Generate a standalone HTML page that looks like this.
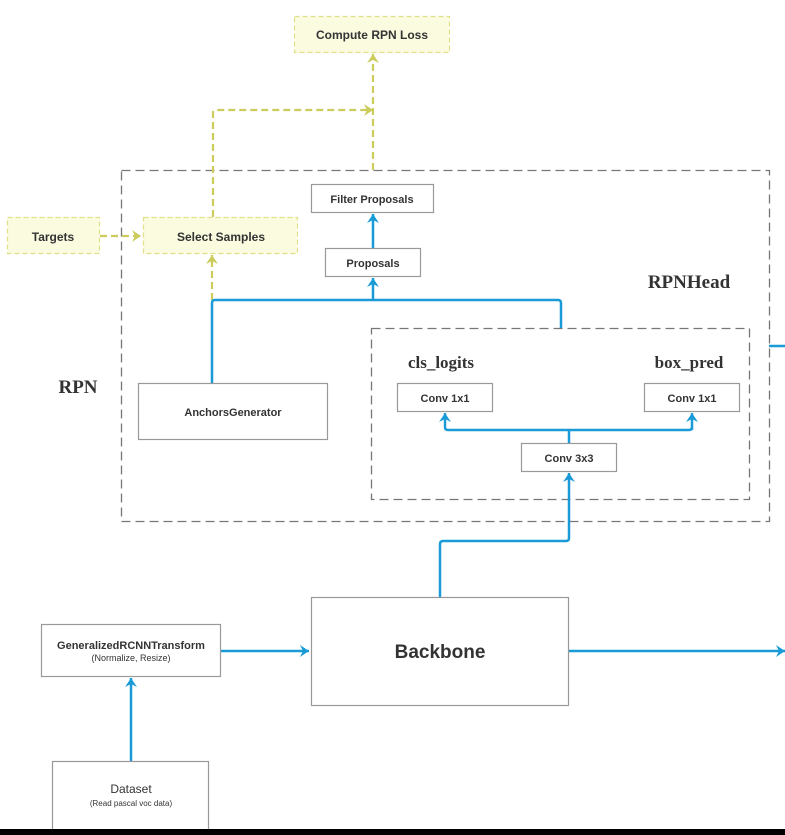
<!DOCTYPE html>
<html><head><meta charset="utf-8"><style>
html,body{margin:0;padding:0;background:#fff;}
svg{display:block;}
text{font-family:"Liberation Sans",Arial,sans-serif;fill:#333;}
.s{font-family:"Liberation Serif",serif;font-weight:bold;fill:#333;}
</style></head><body>
<svg width="785" height="835" viewBox="0 0 785 835" xmlns="http://www.w3.org/2000/svg">
<defs>
<marker id="ab" markerWidth="14" markerHeight="14" refX="11" refY="7" orient="auto" markerUnits="userSpaceOnUse">
<path d="M2,1 L11,7 L2,13 L5,7 Z" fill="#1a9bd7"/>
</marker>
<marker id="ay" markerWidth="14" markerHeight="14" refX="11" refY="7" orient="auto" markerUnits="userSpaceOnUse">
<path d="M2,1 L11,7 L2,13 L5,7 Z" fill="#cccc5c"/>
</marker>
</defs>
<rect x="0" y="0" width="785" height="835" fill="#fff"/>

<rect x="121.5" y="170.5" width="648" height="351" fill="none" stroke="#777" stroke-width="1.3" stroke-dasharray="9,5"/>
<rect x="371.5" y="328.5" width="378" height="171" fill="none" stroke="#777" stroke-width="1.3" stroke-dasharray="9,5"/>

<g fill="none" stroke="#cccc5c" stroke-width="2.2" stroke-dasharray="7,4">
<path d="M373,170 L373,54" marker-end="url(#ay)"/>
<path d="M213,217 L213,113 Q213,110 216,110 L373,110" marker-end="url(#ay)"/>
<path d="M100,236 L141,236" marker-end="url(#ay)"/>
<path d="M212,300 L212,255" marker-end="url(#ay)"/>
</g>

<g fill="none" stroke="#1a9bd7" stroke-width="2.5">
<path d="M212,383 L212,303 Q212,300 215,300 L558,300 Q561,300 561,303 L561,328"/>
<path d="M373,300 L373,278" marker-end="url(#ab)"/>
<path d="M373,248 L373,214" marker-end="url(#ab)"/>
<path d="M440,597 L440,544 Q440,541 443,541 L566,541 Q569,541 569,538 L569,473" marker-end="url(#ab)"/>
<path d="M569,443 L569,430"/>
<path d="M448,430 L689,430 Q692,430 692,427"/>
<path d="M448,430 Q445,430 445,427 L445,413" marker-end="url(#ab)"/>
<path d="M692,430 L692,413" marker-end="url(#ab)"/>
<path d="M769,346 L785,346"/>
<path d="M568,651 L785,651" marker-end="url(#ab)"/>
<path d="M220,651 L309,651" marker-end="url(#ab)"/>
<path d="M131,761 L131,678" marker-end="url(#ab)"/>
</g>

<g fill="#fbfbe0" stroke="#e0e08a" stroke-width="1.2" stroke-dasharray="5,3">
<rect x="294.5" y="16.5" width="155" height="36"/>
<rect x="7.5" y="217.5" width="92" height="36"/>
<rect x="143.5" y="217.5" width="154" height="36"/>
</g>
<text x="372" y="39" font-size="12" font-weight="bold" text-anchor="middle">Compute RPN Loss</text>
<text x="53" y="241" font-size="12" font-weight="bold" text-anchor="middle">Targets</text>
<text x="221" y="241" font-size="12" font-weight="bold" text-anchor="middle">Select Samples</text>

<g fill="#fff" stroke="#999" stroke-width="1.2">
<rect x="311.5" y="184.5" width="122" height="28"/>
<rect x="325.5" y="248.5" width="95" height="28"/>
<rect x="138.5" y="383.5" width="189" height="56"/>
<rect x="397.5" y="383.5" width="95" height="28"/>
<rect x="644.5" y="383.5" width="95" height="28"/>
<rect x="521.5" y="443.5" width="95" height="28"/>
<rect x="311.5" y="597.5" width="257" height="108"/>
<rect x="41.5" y="624.5" width="179" height="52"/>
<rect x="52.5" y="761.5" width="156" height="70"/>
</g>
<text x="372" y="203" font-size="11" font-weight="bold" text-anchor="middle">Filter Proposals</text>
<text x="373" y="267" font-size="11" font-weight="bold" text-anchor="middle">Proposals</text>
<text x="233" y="416" font-size="11" font-weight="bold" text-anchor="middle">AnchorsGenerator</text>
<text x="445" y="402" font-size="11" font-weight="bold" text-anchor="middle">Conv 1x1</text>
<text x="692" y="402" font-size="11" font-weight="bold" text-anchor="middle">Conv 1x1</text>
<text x="569" y="462" font-size="11" font-weight="bold" text-anchor="middle">Conv 3x3</text>
<text x="440" y="658" font-size="19" font-weight="bold" text-anchor="middle">Backbone</text>
<text x="131" y="649" font-size="11" font-weight="bold" text-anchor="middle">GeneralizedRCNNTransform</text>
<text x="131" y="661" font-size="9" text-anchor="middle">(Normalize, Resize)</text>
<text x="131" y="793" font-size="12" text-anchor="middle">Dataset</text>
<text x="131" y="806" font-size="8" text-anchor="middle">(Read pascal voc data)</text>

<text class="s" x="78" y="393" font-size="19" text-anchor="middle">RPN</text>
<text class="s" x="689" y="288" font-size="19" text-anchor="middle">RPNHead</text>
<text class="s" x="441" y="368" font-size="17" text-anchor="middle">cls_logits</text>
<text class="s" x="689" y="368" font-size="17" text-anchor="middle">box_pred</text>

<rect x="0" y="829" width="785" height="6" fill="#000"/>
</svg>
</body></html>
